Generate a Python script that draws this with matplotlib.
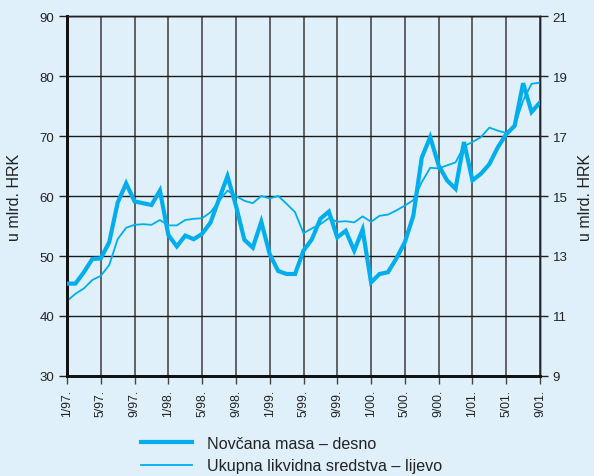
import matplotlib
matplotlib.use("Agg")
import matplotlib.pyplot as plt
from matplotlib.lines import Line2D

plt.rcParams['font.family'] = ['Liberation Sans', 'DejaVu Sans']

# month index 0 = 1/97 ... 56 = 9/01
tick_labels = ["1/97.", "5/97.", "9/97.", "1/98.", "5/98.", "9/98.", "1/99.", "5/99.",
               "9/99.", "1/00.", "5/00.", "9/00.", "1/01.", "5/01.", "9/01."]

# Ukupna likvidna sredstva (left axis, mlrd. HRK)
ukupna = [42.5, 43.7, 44.6, 46.0, 46.7, 48.5, 52.8, 54.7, 55.2, 55.3, 55.2, 56.0,
          55.1, 55.1, 56.0, 56.2, 56.3, 57.3, 59.2, 60.9, 60.0, 59.2, 58.8, 60.0,
          59.6, 60.0, 58.7, 57.3, 53.8, 54.6, 55.3, 56.3, 55.7, 55.8, 55.6, 56.6,
          55.7, 56.7, 56.9, 57.6, 58.4, 59.3, 62.3, 64.7, 64.6, 65.1, 65.6, 68.3,
          69.0, 69.8, 71.4, 70.9, 70.5, 71.7, 75.9, 78.7, 78.9]

# Novcana masa (right axis, mlrd. HRK)
novcana = [12.08, 12.08, 12.46, 12.90, 12.92, 13.46, 14.78, 15.42, 14.82, 14.76, 14.70, 15.18,
           13.70, 13.32, 13.68, 13.56, 13.74, 14.12, 14.90, 15.66, 14.68, 13.54, 13.28, 14.14,
           13.06, 12.50, 12.40, 12.40, 13.18, 13.56, 14.24, 14.48, 13.62, 13.84, 13.18, 13.88,
           12.12, 12.40, 12.46, 12.92, 13.46, 14.34, 16.28, 16.96, 16.02, 15.52, 15.24, 16.80,
           15.52, 15.74, 16.06, 16.62, 17.06, 17.34, 18.76, 17.80, 18.12]

left_ticks = [30, 40, 50, 60, 70, 80, 90]
right_ticks = [9, 11, 13, 15, 17, 19, 21]

bg = '#dff0fb'
line_col = '#00aeef'
txt = '#222222'

W, H = 594, 477
fig = plt.figure(figsize=(W / 100, H / 100), dpi=100, facecolor=bg)
ax = fig.add_axes([67 / W, 1 - 377 / H, (540 - 67) / W, (377 - 17) / H])
ax.set_facecolor(bg)
ax2 = ax.twinx()

x = list(range(len(ukupna)))
ax.plot(x, ukupna, color=line_col, lw=1.3, zorder=3)
ax2.plot(x, novcana, color=line_col, lw=3.0, zorder=3, solid_joinstyle='miter')

ax.set_xlim(0, 56)
ax.set_ylim(30, 90)
ax2.set_ylim(9, 21)

xt = list(range(0, 57, 4))
ax.set_xticks(xt)
ax.set_xticklabels(tick_labels, rotation=90, fontsize=8.8, color=txt)
ax.set_yticks(left_ticks)
ax.set_yticklabels([str(t) for t in left_ticks], fontsize=9.5, color=txt)
ax2.set_yticks(right_ticks)
ax2.set_yticklabels([str(t) for t in right_ticks], fontsize=9.5, color=txt)

ax.tick_params(axis='x', direction='out', length=6, width=1, color='#444444', pad=3)
ax.tick_params(axis='y', direction='out', length=6, width=1, color=txt, pad=3)
ax2.tick_params(axis='y', direction='out', length=6, width=1, color=txt, pad=3)

ax.yaxis.grid(True, color='#1a1a1a', lw=1.0, zorder=0)
ax.xaxis.grid(True, color='#555555', lw=1.3, zorder=0)
ax.set_axisbelow(True)

for a in (ax, ax2):
    for s in ('top', 'right'):
        a.spines[s].set_color(txt)
        a.spines[s].set_linewidth(1.0)
    a.spines['left'].set_linewidth(2.0)
    a.spines['left'].set_color('#111111')
    a.spines['bottom'].set_linewidth(2.0)
    a.spines['bottom'].set_color('#111111')

fig.text(15 / W, 1 - 197 / H, 'u mlrd. HRK', rotation=90, ha='center', va='center',
         fontsize=11.5, color=txt)
fig.text(585 / W, 1 - 197 / H, 'u mlrd. HRK', rotation=90, ha='center', va='center',
         fontsize=11.5, color=txt)

handles = [Line2D([], [], color=line_col, lw=3.0), Line2D([], [], color=line_col, lw=1.3)]
labels = ['Novčana masa – desno', 'Ukupna likvidna sredstva – lijevo']
fig.legend(handles, labels, loc='upper left', bbox_to_anchor=(141 / W, 1 - 437 / H),
           frameon=False, fontsize=11.6, handlelength=3.17, handletextpad=0.93,
           labelspacing=0.45, borderpad=0, borderaxespad=0, labelcolor=txt)

fig.savefig('out.png', dpi=100, facecolor=bg)
